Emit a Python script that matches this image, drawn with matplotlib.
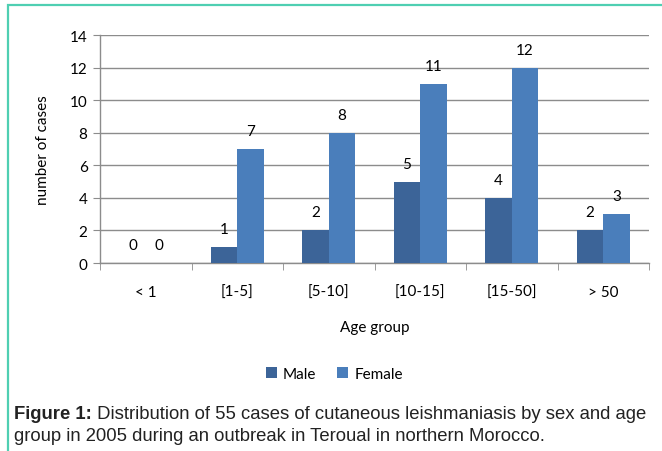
import matplotlib.pyplot as plt
import numpy as np
from matplotlib.patches import Rectangle

groups = ["< 1", "[1-5]", "[5-10]", "[10-15]", "[15-50]", "> 50"]
male = [0, 1, 2, 5, 4, 2]
female = [0, 7, 8, 11, 12, 3]

male_col = "#3c6498"
female_col = "#4a7ebb"
grid_col = "#8c8c8c"

plt.rcParams["font.family"] = ["Lato", "DejaVu Sans"]

fig = plt.figure(figsize=(6.62, 4.52), dpi=100)
ax = fig.add_axes([100 / 662, 1 - 264 / 452, 549 / 662, 228 / 452])

x = np.arange(len(groups))
w = 0.29
b1 = ax.bar(x - w / 2, male, w, color=male_col, label="Male", zorder=3)
b2 = ax.bar(x + w / 2, female, w, color=female_col, label="Female", zorder=3)

# value labels above bars
for bars, vals in ((b1, male), (b2, female)):
    for r, v in zip(bars, vals):
        ax.annotate(str(v), (r.get_x() + r.get_width() / 2, v),
                    xytext=(0, 13), textcoords="offset points",
                    ha="center", va="center", fontsize=11)

ax.set_xlim(-0.5, len(groups) - 0.5)
ax.set_ylim(0, 14)
ax.set_yticks(range(0, 15, 2))
ax.yaxis.grid(True, color=grid_col, linewidth=1, zorder=0)
ax.set_xticks(x)
ax.set_xticklabels(groups, fontsize=11)
ax.set_xticks(np.arange(len(groups) + 1) - 0.5, minor=True)
ax.tick_params(axis="x", which="major", length=0, pad=16)
ax.tick_params(axis="x", which="minor", length=5, color=grid_col, direction="out")
ax.tick_params(axis="y", length=5, color=grid_col, labelsize=11, pad=4)

for s in ("top", "right"):
    ax.spines[s].set_visible(False)
for s in ("left", "bottom"):
    ax.spines[s].set_color(grid_col)
    ax.spines[s].set_linewidth(1)

ax.set_xlabel("Age group", fontsize=11, labelpad=15)
ax.set_ylabel("number of cases", fontsize=11, labelpad=14)

fig.legend(handles=[b1, b2], loc="center", bbox_to_anchor=(0.505, 1 - 375 / 452),
           ncol=2, frameon=False, fontsize=11, handlelength=0.7, handleheight=0.7,
           handletextpad=0.4, columnspacing=1.4)

# teal panel border (only top and left visible)
fig.patches.append(Rectangle((8 / 662, -0.1), 1.2, 1 - 6 / 452 + 0.1,
                             transform=fig.transFigure, fill=False,
                             edgecolor="#4fcfb2", linewidth=1.6))

# caption
cap_font = ["Liberation Sans", "DejaVu Sans"]
cap_size = 13.3
t1 = fig.text(14 / 662, 1 - 415 / 452, "Figure 1:", fontsize=cap_size, fontweight="bold",
              family=cap_font, va="center", color="#222222")
ax.annotate(" Distribution of 55 cases of cutaneous leishmaniasis by sex and age",
            xy=(1, 0.5), xycoords=t1, va="center", ha="left",
            fontsize=cap_size, family=cap_font, color="#222222", annotation_clip=False)
fig.text(14 / 662, 1 - 437 / 452,
         "group in 2005 during an outbreak in Teroual in northern Morocco.",
         fontsize=cap_size, family=cap_font, va="center", color="#222222")

fig.savefig("out.png", dpi=100)
